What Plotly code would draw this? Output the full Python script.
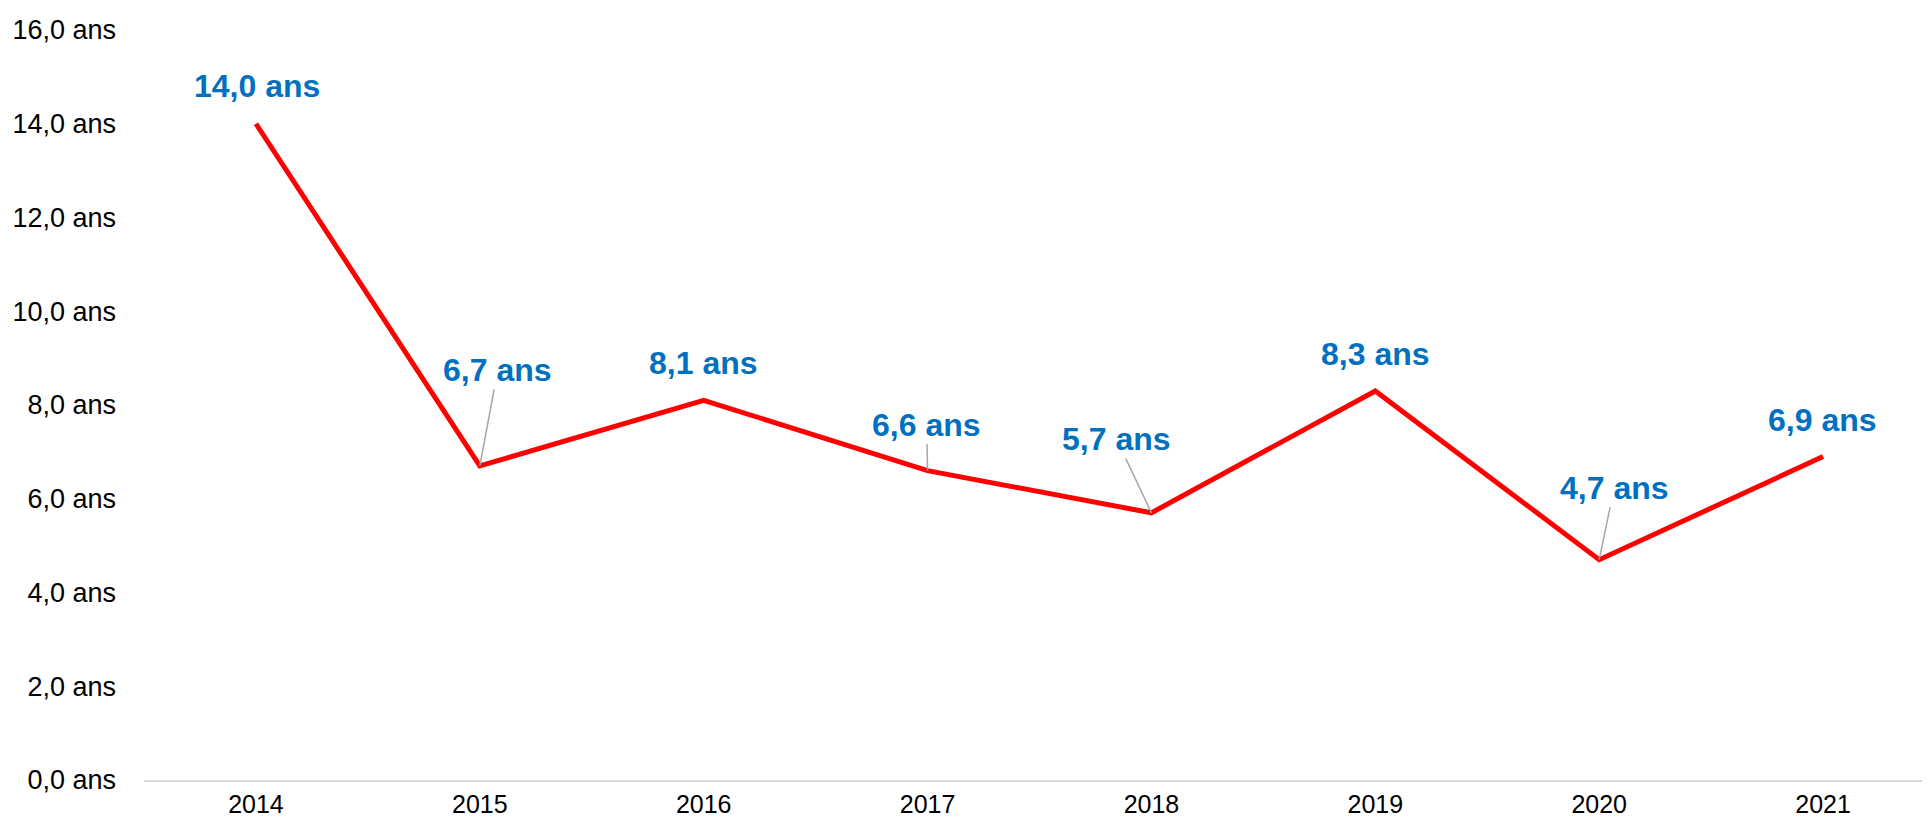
import plotly.graph_objects as go

years = ["2014", "2015", "2016", "2017", "2018", "2019", "2020", "2021"]
values = [14.0, 6.7, 8.1, 6.6, 5.7, 8.3, 4.7, 6.9]
label_texts = ["14,0 ans", "6,7 ans", "8,1 ans", "6,6 ans", "5,7 ans", "8,3 ans", "4,7 ans", "6,9 ans"]
y_tick_vals = [0, 2, 4, 6, 8, 10, 12, 14, 16]
y_tick_text = ["0,0 ans", "2,0 ans", "4,0 ans", "6,0 ans", "8,0 ans", "10,0 ans", "12,0 ans", "14,0 ans", "16,0 ans"]

# label placement (pixel offsets of text centre from point) and leader lines
label_dx = [1, 18, 0, -1, -35, 0, 15, -1]
label_dy = [-38, -96, -37, -46, -74, -37, -72, -37]
leader = [False, True, False, True, True, False, True, False]

fig = go.Figure()
fig.add_trace(go.Scatter(
    x=years, y=values, mode="lines",
    line=dict(color="#FF0000", width=5),
    hoverinfo="skip", showlegend=False,
))

lab_font = dict(family="Liberation Sans, Arial", size=32, color="#0070C0", weight="bold")
for i, (v, t) in enumerate(zip(values, label_texts)):
    if leader[i]:
        fig.add_annotation(
            x=i, y=v, text=t, showarrow=True, arrowhead=0, arrowwidth=1.5,
            arrowcolor="#A6A6A6", ax=label_dx[i], ay=label_dy[i],
            standoff=0, font=lab_font,
        )
    else:
        fig.add_annotation(
            x=i, y=v, text=t, showarrow=False,
            xshift=label_dx[i], yshift=-label_dy[i], font=lab_font,
        )

fig.update_layout(
    width=1930, height=816,
    margin=dict(l=136, r=3, t=22, b=44),
    paper_bgcolor="white", plot_bgcolor="white",
    font=dict(family="Liberation Sans, Arial", size=25, color="#000000"),
)
fig.update_xaxes(
    type="category", range=[-0.5, len(years) - 0.5],
    showgrid=False, zeroline=False,
    showline=True, linecolor="#D9D9D9", linewidth=2,
    ticks="", ticklabelstandoff=1,
    tickfont=dict(size=25),
)
fig.update_yaxes(
    range=[0, 16], showgrid=False, zeroline=False, showline=False,
    tickvals=y_tick_vals, ticktext=y_tick_text, ticks="",
    ticklabelstandoff=27, tickfont=dict(size=27),
)

fig.write_html("out.html")
